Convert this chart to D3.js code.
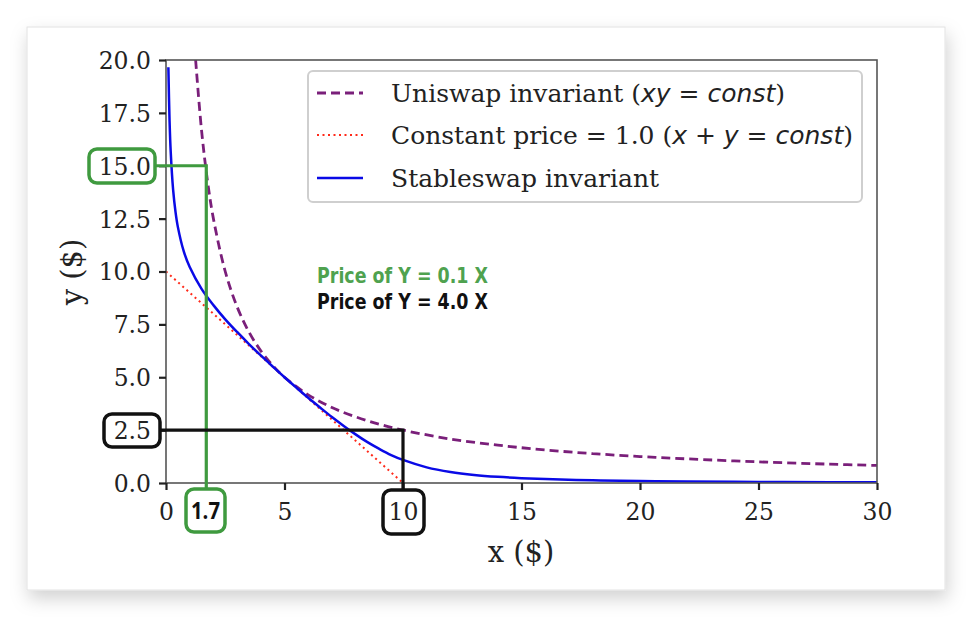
<!DOCTYPE html>
<html>
<head>
<meta charset="utf-8">
<script src="https://cdn.jsdelivr.net/npm/d3@7"></script>
<style>
  html, body { margin: 0; padding: 0; background: #ffffff; }
  svg { display: block; }
</style>
</head>
<body>
<svg id="chart" width="972" height="617"></svg>
<script>
// ---------------- data ----------------
const xTicks = [0, 5, 10, 15, 20, 25, 30];
const yTicks = [0, 2.5, 5, 7.5, 10, 12.5, 15, 17.5, 20];

// Uniswap invariant (xy = const)
const uniX = [1.25, 1.5, 1.75, 2, 2.5, 3, 3.5, 4, 4.5, 5, 6, 7, 8, 9, 10, 12, 14, 16, 18, 20, 22, 25, 28, 30];
const uniY = [20, 16.67, 14.29, 12.5, 10, 8.33, 7.14, 6.25, 5.56, 5, 4.17, 3.57, 3.13, 2.78, 2.5, 2.08, 1.79, 1.56, 1.39, 1.25, 1.14, 1.0, 0.89, 0.83];

// Constant price (x + y = const)
const constX = [0, 10];
const constY = [10, 0];

// Stableswap invariant
const stableX = [0.1, 0.15, 0.2, 0.3, 0.4, 0.5, 0.75, 1, 1.5, 2, 2.5, 3, 3.5, 4, 4.5, 5, 5.5, 6, 6.5, 7, 7.5, 8, 8.5, 9, 9.5, 10, 11, 12, 13, 14, 15, 16, 18, 20, 22, 25, 28, 30];
const stableY = [19.66, 17.13, 15.63, 13.87, 12.83, 12.11, 10.95, 10.21, 9.18, 8.41, 7.74, 7.14, 6.57, 6.03, 5.51, 5.0, 4.51, 4.03, 3.57, 3.12, 2.70, 2.30, 1.93, 1.61, 1.32, 1.09, 0.74, 0.52, 0.38, 0.29, 0.23, 0.185, 0.13, 0.095, 0.073, 0.052, 0.039, 0.033];

const legendLabels = ["Uniswap invariant", "Constant price = 1.0", "Stableswap invariant"];
const priceNotes = ["Price of Y = 0.1 X", "Price of Y = 4.0 X"];
const highlightA = { x: 1.7, y: 15.0, xLabel: "1.7", yLabel: "15.0" };
const highlightB = { x: 10, y: 2.5, xLabel: "10", yLabel: "2.5" };

// ---------------- drawing ----------------
const svg = d3.select("#chart");
const defs = svg.append("defs");
const filt = defs.append("filter").attr("id", "shadow").attr("x", "-10%").attr("y", "-10%").attr("width", "120%").attr("height", "125%");
filt.append("feDropShadow").attr("dx", 2).attr("dy", 8).attr("stdDeviation", 9).attr("flood-color", "#000").attr("flood-opacity", 0.18);

// card
svg.append("rect").attr("x", 27).attr("y", 27).attr("width", 918).attr("height", 563)
  .attr("fill", "#ffffff").attr("stroke", "#e2e2e2").attr("stroke-width", 1)
  .attr("filter", "url(#shadow)");

const x = d3.scaleLinear().domain([0, 30]).range([166, 877]);
const y = d3.scaleLinear().domain([0, 20]).range([483, 60]);

const serif = "'DejaVu Serif', serif";

defs.append("clipPath").attr("id", "plotclip").append("rect")
  .attr("x", x(0)).attr("y", y(20)).attr("width", x(30) - x(0)).attr("height", y(0) - y(20));

// curves
const plot = svg.append("g").attr("clip-path", "url(#plotclip)");
const line = d3.line().x(d => x(d[0])).y(d => y(d[1])).curve(d3.curveMonotoneX);
const lineCurve = d3.line().x(d => x(d[0])).y(d => y(d[1])).curve(d3.curveCatmullRom.alpha(0.5));

plot.append("path").datum(constX.map((v, i) => [v, constY[i]]))
  .attr("d", line).attr("fill", "none").attr("stroke", "#ff2a1a")
  .attr("stroke-width", 2).attr("stroke-dasharray", "2,3.5");

plot.append("path").datum(uniX.map((v, i) => [v, uniY[i]]))
  .attr("d", lineCurve).attr("fill", "none").attr("stroke", "#7a1f7a")
  .attr("stroke-width", 2.8).attr("stroke-dasharray", "9,5");

plot.append("path").datum(stableX.map((v, i) => [v, stableY[i]]))
  .attr("d", lineCurve).attr("fill", "none").attr("stroke", "#0a0ae6")
  .attr("stroke-width", 2.5);

// frame
svg.append("rect").attr("x", x(0)).attr("y", y(20)).attr("width", x(30) - x(0)).attr("height", y(0) - y(20))
  .attr("fill", "none").attr("stroke", "#555").attr("stroke-width", 1.6);

// axes
const xAxis = svg.append("g").attr("transform", `translate(0,${y(0)})`)
  .call(d3.axisBottom(x).tickValues(xTicks).tickSize(7).tickPadding(11).tickFormat(d3.format("d")));
const yAxis = svg.append("g").attr("transform", `translate(${x(0)},0)`)
  .call(d3.axisLeft(y).tickValues(yTicks).tickSize(7).tickPadding(8).tickFormat(d3.format(".1f")));
[xAxis, yAxis].forEach(a => {
  a.select(".domain").remove();
  a.selectAll(".tick line").attr("stroke", "#222").attr("stroke-width", 2.2);
  a.selectAll(".tick text").attr("font-family", serif).attr("font-size", 23.5).attr("fill", "#222");
});
xAxis.selectAll(".tick text").attr("dy", "0.82em");
yAxis.selectAll(".tick text").attr("dy", "0.36em");

// axis labels
svg.append("text").attr("x", 521).attr("y", 562).attr("text-anchor", "middle")
  .attr("font-family", serif).attr("font-size", 29).attr("fill", "#222").text("x ($)");
svg.append("text").attr("transform", "translate(82,272) rotate(-90)").attr("text-anchor", "middle")
  .attr("font-family", serif).attr("font-size", 29).attr("fill", "#222").text("y ($)");

// legend
const lg = svg.append("g");
lg.append("rect").attr("x", 308).attr("y", 71).attr("width", 554).attr("height", 131).attr("rx", 5)
  .attr("fill", "#fff").attr("stroke", "#cfcfcf").attr("stroke-width", 2);
const rowsY = [93, 135, 178];
const handles = [
  { stroke: "#7a1f7a", w: 2.8, dash: "9,5" },
  { stroke: "#ff2a1a", w: 2, dash: "2,3.5" },
  { stroke: "#0a0ae6", w: 2.6, dash: null }
];
handles.forEach((h, i) => {
  lg.append("line").attr("x1", 317).attr("x2", 363).attr("y1", rowsY[i]).attr("y2", rowsY[i])
    .attr("stroke", h.stroke).attr("stroke-width", h.w).attr("stroke-dasharray", h.dash);
});
const math = "'DejaVu Sans', sans-serif";
const lfs = 25;
const t1 = lg.append("text").attr("x", 391).attr("y", rowsY[0] + 9).attr("font-family", serif).attr("font-size", lfs).attr("fill", "#222");
t1.append("tspan").text(legendLabels[0] + " (");
t1.append("tspan").attr("font-family", math).attr("font-style", "italic").text("xy");
t1.append("tspan").attr("font-family", math).text(" = ");
t1.append("tspan").attr("font-family", math).attr("font-style", "italic").text("const");
t1.append("tspan").text(")");
const t2 = lg.append("text").attr("x", 391).attr("y", rowsY[1] + 9).attr("font-family", serif).attr("font-size", lfs).attr("fill", "#222");
t2.append("tspan").text(legendLabels[1] + " (");
t2.append("tspan").attr("font-family", math).attr("font-style", "italic").text("x");
t2.append("tspan").attr("font-family", math).text(" + ");
t2.append("tspan").attr("font-family", math).attr("font-style", "italic").text("y");
t2.append("tspan").attr("font-family", math).text(" = ");
t2.append("tspan").attr("font-family", math).attr("font-style", "italic").text("const");
t2.append("tspan").text(")");
lg.append("text").attr("x", 391).attr("y", rowsY[2] + 9).attr("font-family", serif).attr("font-size", lfs).attr("fill", "#222")
  .text(legendLabels[2]);

// price notes
const noteFont = "'DejaVu Sans Condensed', 'DejaVu Sans', sans-serif";
svg.append("text").attr("x", 317).attr("y", 283).attr("font-family", noteFont).attr("font-weight", 700)
  .attr("font-size", 21).attr("fill", "#4fa24f").attr("textLength", 171).attr("lengthAdjust", "spacingAndGlyphs")
  .text(priceNotes[0]);
svg.append("text").attr("x", 317).attr("y", 309).attr("font-family", noteFont).attr("font-weight", 700)
  .attr("font-size", 21).attr("fill", "#111").attr("textLength", 171).attr("lengthAdjust", "spacingAndGlyphs")
  .text(priceNotes[1]);

// highlight A (green)
const green = "#3f9a3f";
svg.append("path")
  .attr("d", `M155,${y(highlightA.y)} H${x(highlightA.x)} V488`)
  .attr("fill", "none").attr("stroke", green).attr("stroke-width", 3.2);
svg.append("rect").attr("x", 89).attr("y", 149).attr("width", 66).attr("height", 34).attr("rx", 8)
  .attr("fill", "none").attr("stroke", green).attr("stroke-width", 3.5);
svg.append("rect").attr("x", 186).attr("y", 489).attr("width", 39).attr("height", 43).attr("rx", 8)
  .attr("fill", "#fff").attr("stroke", green).attr("stroke-width", 3.5);
svg.append("text").attr("x", (186 + 225) / 2).attr("y", 519).attr("text-anchor", "middle")
  .attr("font-family", "'Open Sans', sans-serif").attr("font-weight", 700).attr("font-size", 23).attr("fill", "#111")
  .attr("textLength", 29).attr("lengthAdjust", "spacingAndGlyphs")
  .text(highlightA.xLabel);

// highlight B (black)
svg.append("path")
  .attr("d", `M160,${y(highlightB.y)} H${x(highlightB.x)} V490`)
  .attr("fill", "none").attr("stroke", "#111").attr("stroke-width", 3.2);
svg.append("rect").attr("x", 104).attr("y", 414).attr("width", 56).attr("height", 33).attr("rx", 8)
  .attr("fill", "none").attr("stroke", "#111").attr("stroke-width", 3.5);
svg.append("rect").attr("x", 383).attr("y", 490).attr("width", 41).attr("height", 44).attr("rx", 8)
  .attr("fill", "none").attr("stroke", "#111").attr("stroke-width", 3.5);
</script>
</body>
</html>
